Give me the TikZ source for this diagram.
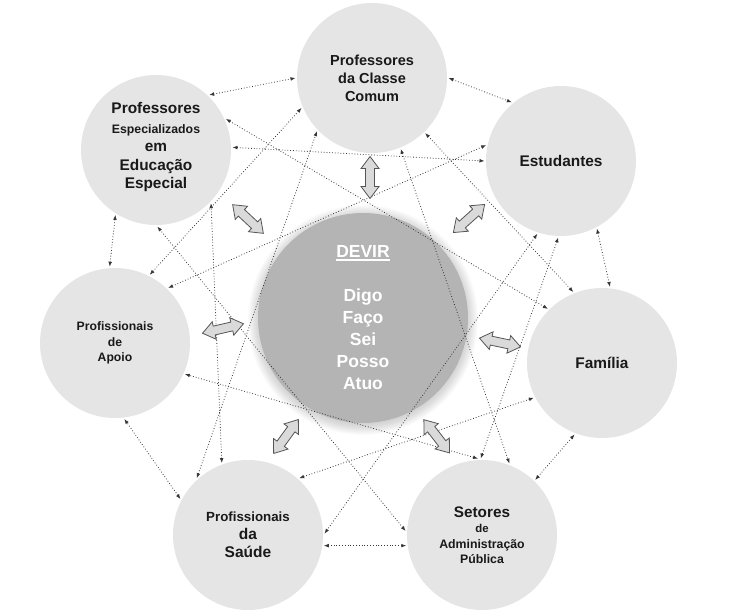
\documentclass[tikz,border=0pt]{standalone}
\usepackage{fontspec}
\setmainfont{Liberation Sans}
\usetikzlibrary{arrows.meta,calc}
\definecolor{outerfill}{RGB}{229,229,229}
\definecolor{devirfill}{RGB}{180,180,180}
\definecolor{arrowfill}{RGB}{218,218,218}
\definecolor{arrowline}{RGB}{85,85,85}
\definecolor{dotline}{RGB}{55,55,55}
\definecolor{txt}{RGB}{25,25,25}
\newcommand\myfs[2]{\fontsize{#1bp}{#2bp}\selectfont}
\newcommand\myul[1]{\setbox0\hbox{#1}\rlap{\rule[-2.6bp]{\wd0}{1.3bp}}\box0}
\begin{document}
\begin{tikzpicture}[x=1bp,y=-1bp,
  outer/.style={circle, fill=outerfill, minimum size=150bp, inner sep=0pt,
    outer sep=1.5bp, align=center, text=txt},
  link/.style={dotline, line width=0.8bp, dash pattern=on 0.8bp off 2bp,
    {Latex[length=5bp,width=3.8bp]}-{Latex[length=5bp,width=3.8bp]}},
  blockarr/.style={fill=arrowfill, draw=arrowline, line width=0.8bp, line join=miter},
  dblarrow/.pic={\draw[blockarr] (-21,0) -- (-9,-9) -- (-9,-4.5) -- (9,-4.5) -- (9,-9)
     -- (21,0) -- (9,9) -- (9,4.5) -- (-9,4.5) -- (-9,9) -- cycle;}
]
\useasboundingbox (0,0) rectangle (748,616);

% soft shadow of the central circle
\foreach \i in {1,...,12}{
  \pgfmathsetmacro\rr{103+\i}
  \fill[black, opacity=0.016] (363,320) circle[radius=\rr bp];
}
\node[circle, fill=devirfill, minimum size=210bp, inner sep=0pt, align=center,
  text=white, font=\bfseries\myfs{17.5}{22}] (devir) at (363,318)
  {\myul{DEVIR}\\\mbox{}\\Digo\\Faço\\Sei\\Posso\\Atuo};

% outer circles
\node[outer, font=\bfseries\myfs{14.5}{18}] (pcc) at (372,78) {Professores\\da Classe\\Comum};
\node[outer, font=\bfseries\myfs{15.4}{18.5}] (pee) at (156,150)
  {Professores\\[1bp]{\myfs{12.3}{18.5}Especializados}\\em\\Educação\\Especial\\[-10bp]\mbox{}};
\node[outer, font=\bfseries\myfs{15.4}{18}] (est) at (561,161) {Estudantes};
\node[outer, font=\bfseries\myfs{15.4}{18}] (fam) at (602,363) {Família};
\node[outer, font=\bfseries\myfs{12.2}{15.5}] (apo) at (115,343) {Profissionais\\de\\Apoio};
\node[outer, font=\bfseries\myfs{15.5}{18}] (sau) at (248,535)
  {{\myfs{13.3}{18}Profissionais}\\da\\Saúde};
\node[outer, font=\bfseries\myfs{12.3}{15.5}] (set) at (482,535)
  {{\myfs{15.3}{15.5}Setores}\\{\myfs{11.4}{15.5}de}\\Administração\\Pública};

% dotted relations
\draw[link] (pee.46.5) -- (pcc.180);
\draw[link] (pcc.0) -- (est.130);
\draw[link] (est.-62) -- (fam.84.5);
\draw[link] (fam.-111) -- (set.46);
\draw[link] (set.188) -- (sau.-8.5);
\draw[link] (sau.152) -- (apo.-83);
\draw[link] (apo.94.5) -- (pee.-122);
\draw[link] (pcc.-46.6) -- (fam.112.3);
\draw[link] (est.-92) -- (set.91);
\draw[link] (fam.207) -- (sau.48.8);
\draw[link] (set.93) -- (apo.-24);
\draw[link] (sau.110.6) -- (pee.-44.5);
\draw[link] (apo.63.4) -- (pcc.-157.4);
\draw[link] (pee.2.2) -- (est.180);
\draw[link] (pcc.-68.2) -- (set.69.8);
\draw[link] (est.-108.7) -- (sau.1.5);
\draw[link] (set.177.7) -- (pee.-89.2);
\draw[link] (sau.132.3) -- (pcc.-136);
\draw[link] (apo.46) -- (est.168.6);
\draw[link] (pee.24.6) -- (fam.135);

% block arrows between DEVIR and each group
\pic[rotate=90] at (370,177.5) {dblarrow};
\pic[rotate=-43] at (248,219) {dblarrow};
\pic[rotate=42] at (469,218.5) {dblarrow};
\pic[rotate=13] at (223,328.5) {dblarrow};
\pic[rotate=-12] at (500,342.5) {dblarrow};
\pic[rotate=54] at (286,436.5) {dblarrow};
\pic[rotate=-52.3] at (436.7,436.3) {dblarrow};
\end{tikzpicture}
\end{document}
